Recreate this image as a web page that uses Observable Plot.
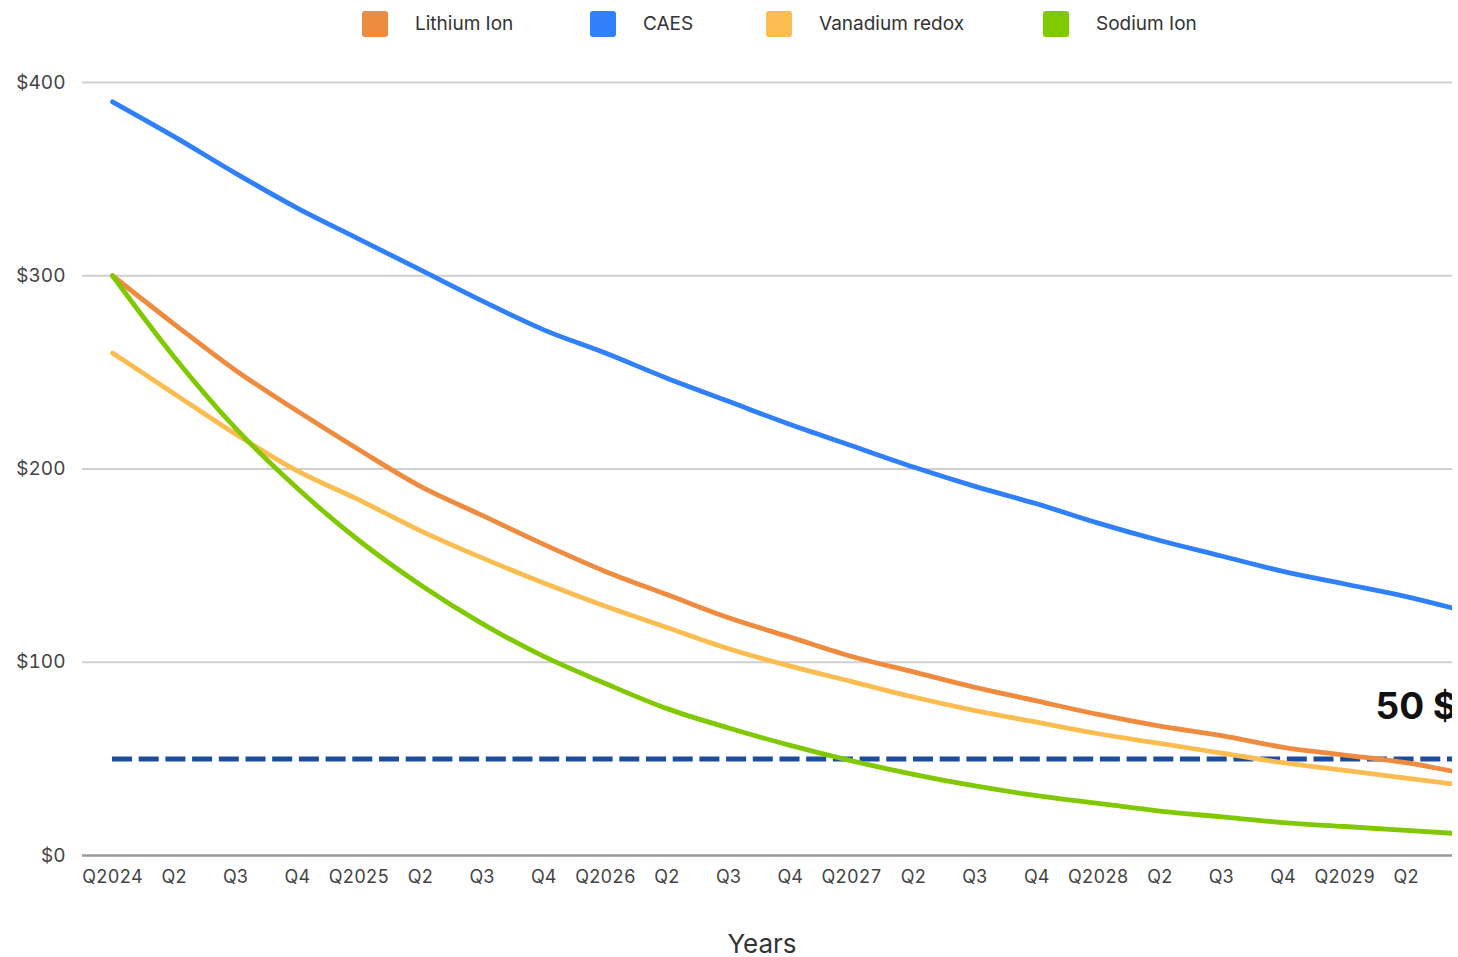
<!DOCTYPE html>
<html>
<head>
<meta charset="utf-8">
<script src="https://cdn.jsdelivr.net/npm/d3@7"></script>
<script src="https://cdn.jsdelivr.net/npm/@observablehq/plot@0.6"></script>
<style>
  html, body { margin: 0; padding: 0; background: #fff; overflow: hidden; }
  body { font-family: Inter, "Noto Sans", sans-serif; width: 1458px; height: 957px; position: relative; }
  #legend { position: relative; height: 46px; width: 1458px; }
  .item { position: absolute; top: 10px; height: 27px; display: flex; align-items: center; font-size: 19px; color: #333; }
  .sw { width: 26px; height: 26px; border-radius: 3px; margin-right: 27px; }
  #xlabel { position: absolute; top: 928px; left: 762px; transform: translateX(-50%); font-size: 26px; color: #333; }
</style>
</head>
<body>
<div id="legend"></div>
<div id="chart"></div>
<div id="xlabel">Years</div>
<script>
const quarterLabels = ["Q2024","Q2","Q3","Q4","Q2025","Q2","Q3","Q4","Q2026","Q2","Q3","Q4","Q2027","Q2","Q3","Q4","Q2028","Q2","Q3","Q4","Q2029","Q2","Q3"];
const seriesNames = ["Lithium Ion", "CAES", "Vanadium redox", "Sodium Ion"];
const seriesColors = ["#ef8b3f", "#3080fb", "#fbbc50", "#80c800"];
const lithium  = [300,275,251,230,210,191,176,161,147,135,123,113,103,95,87,80,73,67,62,56,52,48,42];
const caes     = [390,372,353,335,319,303,287,272,260,247,235,223,212,201,191,182,172,163,155,147,140.5,134,126];
const vanadium = [260,239,218,199,184,168,154,141,129,118,107,98,90,82,75,69,63,58,53,48,44,40,36];
const sodium   = [300,258,221,190,163,140,120,103,89,76,66,57,49,42,36,31,27,23,20,17,15,13,11];
const yTicks = [0, 100, 200, 300, 400];
const target = 50;
const targetLabel = [{i: 20.5, v: 77, text: "50 $"}];

const seriesValues = [lithium, caes, vanadium, sodium];
const data = seriesNames.flatMap((name, s) => seriesValues[s].map((v, i) => ({series: name, i, v})));

// legend
const legendLeft = [362, 590, 766, 1043];
const legend = document.getElementById("legend");
seriesNames.forEach((name, k) => {
  const it = document.createElement("div");
  it.className = "item";
  it.style.left = legendLeft[k] + "px";
  it.innerHTML = `<div class="sw" style="background:${seriesColors[k]}"></div><span>${name}</span>`;
  legend.appendChild(it);
});

const chart = Plot.plot({
  width: 1458,
  height: 870,
  marginTop: 36,
  marginBottom: 61,
  marginLeft: 82,
  marginRight: 6,
  style: {fontFamily: "Inter, 'Noto Sans', sans-serif", background: "#fff", overflow: "hidden"},
  x: {type: "linear", domain: [-0.487, 21.75]},
  y: {domain: [0, 400]},
  color: {domain: seriesNames, range: seriesColors},
  marks: [
    Plot.gridY(yTicks.filter(d => d > 0), {stroke: "#cfcfcf", strokeOpacity: 1, strokeWidth: 2}),
    Plot.ruleY([0], {stroke: "#9a9a9a", strokeWidth: 2.5}),
    Plot.axisY({ticks: yTicks, tickFormat: d => "$" + d, tickSize: 0, tickPadding: 17, fontSize: 19, fill: "#444", label: null}),
    Plot.axisX({ticks: d3.range(22), tickFormat: i => quarterLabels[i], tickSize: 0, tickPadding: 15, fontSize: 18, fill: "#444", label: null}),
    Plot.ruleY([target], {x1: 0, x2: 22, stroke: "#1d4c9d", strokeWidth: 5, strokeDasharray: "20,6.7", clip: true}),
    Plot.line(data, {x: "i", y: "v", z: "series", stroke: "series", strokeWidth: 4.8, curve: "monotone-x", clip: true}),
    Plot.text(targetLabel, {x: "i", y: "v", text: "text", fontSize: 37, fontWeight: "bold", fill: "#111", textAnchor: "start", clip: true})
  ]
});
document.getElementById("chart").appendChild(chart);
</script>
</body>
</html>
